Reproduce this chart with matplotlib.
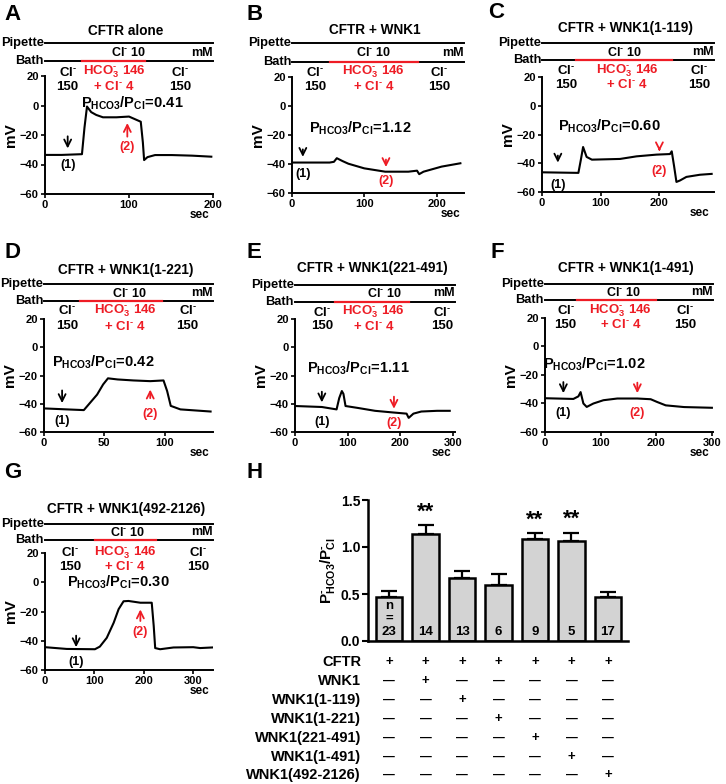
import matplotlib.pyplot as plt
from matplotlib.transforms import blended_transform_factory as blend

plt.rcParams['font.family'] = ['Liberation Sans', 'DejaVu Sans']
plt.rcParams['font.weight'] = 'bold'
plt.rcParams['axes.labelweight'] = 'bold'
plt.rcParams['mathtext.fontset'] = 'custom'
plt.rcParams['mathtext.rm'] = 'Liberation Sans:bold'
plt.rcParams['mathtext.bf'] = 'Liberation Sans:bold'
plt.rcParams['mathtext.it'] = 'Liberation Sans:bold'

# ---- traces (sec, mV) ----
a_t = [0, 20, 44, 47, 50, 55, 61, 69, 85, 100, 104, 114, 116.5, 118, 122, 131, 151, 175, 198]
a_mv = [-33.5, -33.5, -33, -15, -0.7, -4.5, -6.4, -8, -8, -7.5, -8.5, -11, -25, -37, -35, -33.6, -33.6, -34, -34.7]

b_t = [0, 30, 52, 58, 62, 70, 78, 100, 129, 161, 173, 176, 182, 207, 233]
b_mv = [-39, -39, -39, -38.5, -36, -38, -39.8, -43, -45.3, -45.3, -44.6, -47, -45.3, -41.8, -39.5]

c_t = [0, 30, 62, 66, 70, 76, 85, 133, 161, 195, 218, 221, 225, 229, 235, 246, 269, 289]
c_mv = [-46.3, -46.5, -46.7, -38, -28.7, -35.6, -37.5, -37, -35.2, -34, -33.6, -31.7, -42, -53, -52, -49.5, -48, -47.4]

d_t = [0, 19, 33, 37, 44, 49, 53, 61, 74, 88, 99, 102, 105, 113, 138]
d_mv = [-43.3, -44, -44.5, -40.5, -33.5, -26.3, -22, -22.8, -23.5, -24, -23.5, -31, -41.5, -44, -45.5]

e_t = [0, 51, 79, 84, 89, 92, 96, 120, 152, 187, 212, 216, 225, 240, 270, 294]
e_mv = [-41.6, -42.3, -44, -36, -31, -33, -41.6, -43, -45, -46.2, -47, -50, -47, -45.5, -45, -45]

f_t = [0, 51, 60, 64, 69, 75, 87, 105, 130, 166, 190, 202, 217, 250, 300]
f_mv = [-36.3, -36.8, -35, -32, -40, -42.4, -40, -37.7, -36.5, -36.5, -37, -39, -41.3, -42.5, -43]

g_t = [0, 44, 101, 111, 125, 139, 149, 159, 169, 193, 216, 220, 223, 233, 260, 300, 314, 338]
g_mv = [-44.4, -45.6, -45.8, -44, -38, -27.7, -18.4, -13, -12.8, -14, -14, -29.8, -45, -45.8, -44.6, -44.4, -45, -44.6]

titles = ['CFTR alone', 'CFTR + WNK1', 'CFTR + WNK1(1-119)', 'CFTR + WNK1(1-221)',
          'CFTR + WNK1(221-491)', 'CFTR + WNK1(1-491)', 'CFTR + WNK1(492-2126)']
ratios = ['0.41', '1.12', '0.60', '0.42', '1.11', '1.02', '0.30']
# time of HCO3 bath on / off (sec)
switch = [(44, 119), (52, 174), (58, 222), (30, 98), (76, 216), (57, 199), (101, 225)]

# ---- summary (panel H) ----
constructs = ['CFTR', 'WNK1', 'WNK1(1-119)', 'WNK1(1-221)', 'WNK1(221-491)', 'WNK1(1-491)', 'WNK1(492-2126)']
bar_mean = [0.47, 1.14, 0.67, 0.60, 1.09, 1.06, 0.47]
bar_sem = [0.06, 0.09, 0.075, 0.11, 0.055, 0.09, 0.05]
bar_n = [23, 14, 13, 6, 9, 5, 17]
bar_sig = ['', '**', '', '', '**', '**', '']
bar_construct = [None, 'WNK1', 'WNK1(1-119)', 'WNK1(1-221)', 'WNK1(221-491)', 'WNK1(1-491)', 'WNK1(492-2126)']

W, H = 726, 784
fig = plt.figure(figsize=(7.26, 7.84), dpi=100)


def box(l, t, r, b):
    return [l / W, 1 - b / H, (r - l) / W, (b - t) / H]


def fy(py):
    return 1 - py / H


def fx(px):
    return px / W


MINUS = r'^{\text{-}}'

# layout: axes box px, xmax, xticks, letter pos, title/pipette/cl10/bath/label rows,
# label x (sec), Cl10 x, P text pos, arrows (x, tail, tip, label_y)
layout = {
    'A': dict(box=(45, 76, 213, 194), xmax=200, xt=[0, 100, 200], let=(4, 14),
              rows=(31, 43, 53, 61, 72, 87), labx=(27, 82, 161), cl10=100, ptxt=(104, 1.6),
              ar1=(27, -19, -31, -40.5), ar2=(98, -23, -10, -28)),
    'B': dict(box=(292, 77, 464, 193), xmax=238, xt=[0, 100, 200], let=(246, 14),
              rows=(30, 43, 53, 62, 72, 87), labx=(32, 113, 203), cl10=113, ptxt=(94, -15.4),
              ar1=(15, -28, -37, -47), ar2=(130, -35, -44, -52)),
    'C': dict(box=(542, 77, 714, 192), xmax=293, xt=[0, 100, 200], let=(488, 13),
              rows=(28, 43, 52, 60, 71, 85), labx=(41, 145, 268), cl10=140, ptxt=(114, -14.3),
              ar1=(27, -32.7, -41.5, -54.9), ar2=(200, -27.5, -33.6, -45.6)),
    'D': dict(box=(44, 319, 213, 432), xmax=140, xt=[0, 50, 100], let=(4, 253),
              rows=(270, 284, 293, 301, 311, 326), labx=(19, 67, 119), cl10=71, ptxt=(49, -11),
              ar1=(15, -28.6, -41.5, -52), ar2=(88, -38, -28, -47)),
    'E': dict(box=(295, 319, 455, 432), xmax=304, xt=[0, 100, 200, 300], let=(246, 253),
              rows=(268, 285, 293, 302, 312, 326), labx=(51, 149, 279), cl10=171, ptxt=(121, -14.6),
              ar1=(51, -29.5, -41, -52.6), ar2=(188, -33, -45.5, -53.8)),
    'F': dict(box=(545, 318, 713, 432), xmax=302, xt=[0, 100, 200, 300], let=(490, 252),
              rows=(268, 284, 292, 300, 311, 325), labx=(37, 136, 252), cl10=141, ptxt=(88, -12.4),
              ar1=(33, -23, -34.7, -46.5), ar2=(166, -23.4, -34.7, -46.5)),
    'G': dict(box=(45, 553, 213, 670), xmax=340, xt=[0, 100, 200, 300], let=(4, 472),
              rows=(509, 524, 532, 540, 553, 567), labx=(51, 162, 310), cl10=166, ptxt=(148, 0),
              ar1=(63, -34.6, -46.3, -54.4), ar2=(193, -28.4, -16.7, -33.7)),
}

traces = [(a_t, a_mv), (b_t, b_mv), (c_t, c_mv), (d_t, d_mv), (e_t, e_mv), (f_t, f_mv), (g_t, g_mv)]
RED = '#ee1c25'

for i, key in enumerate('ABCDEFG'):
    L = layout[key]
    l, t, r, b = L['box']
    ax = fig.add_axes(box(l, t, r, b))
    tt, mv = traces[i]
    ax.plot(tt, mv, color='black', lw=1.5)
    ax.set_xlim(0, L['xmax'])
    ax.set_ylim(-60, 20)
    ax.set_xticks(L['xt'])
    ax.set_yticks([-60, -40, -20, 0, 20])
    for s in ['top', 'right']:
        ax.spines[s].set_visible(False)
    for s in ['left', 'bottom']:
        ax.spines[s].set_linewidth(1.4)
    ax.tick_params(length=3, width=1.2, labelsize=8, pad=1.5)
    ax.set_ylabel('mV', fontsize=11, fontweight='bold', labelpad=1)
    fig.text(fx(r - 14), fy(b + 21), 'sec', fontsize=8.5, ha='center', va='center')

    ty, py, cy, by, l1, l2 = L['rows']
    fig.text(fx(L['let'][0]), fy(L['let'][1]), key, fontsize=16, ha='left', va='center')
    fig.text(fx((l + r) / 2 - 3), fy(ty), titles[i], fontsize=9.8, ha='center', va='center')

    tr = blend(ax.transData, fig.transFigure)
    on, off = switch[i]
    ax.plot([0, L['xmax']], [fy(py)] * 2, transform=tr, clip_on=False, color='black', lw=1.4)
    ax.plot([0, L['xmax']], [fy(by)] * 2, transform=tr, clip_on=False, color='black', lw=1.4)
    ax.plot([on, off], [fy(by)] * 2, transform=tr, clip_on=False, color=RED, lw=1.6)
    fig.text(fx(l - 1), fy(py), 'Pipette', fontsize=9.3, ha='right', va='center')
    fig.text(fx(l - 1), fy(by), 'Bath', fontsize=9.3, ha='right', va='center')
    ax.text(L['cl10'], fy(cy), r'$\mathbf{Cl%s\ 10}$' % MINUS, transform=tr, fontsize=9, ha='center', va='center')
    ax.text(L['xmax'], fy(cy), 'mM', transform=tr, fontsize=9, ha='right', va='center')

    x1, x2, x3 = L['labx']
    ax.text(x1, fy(l1), r'$\mathbf{Cl%s}$' % MINUS, transform=tr, fontsize=9.5, ha='center', va='center')
    ax.text(x1, fy(l2), '150', transform=tr, fontsize=9.5, ha='center', va='center')
    ax.text(x2, fy(l1), r'$\mathbf{HCO_3%s\ 146}$' % MINUS, transform=tr, fontsize=9.5, ha='center', va='center', color=RED)
    ax.text(x2, fy(l2), r'$\mathbf{+\ Cl%s\ 4}$' % MINUS, transform=tr, fontsize=9.5, ha='center', va='center', color=RED)
    ax.text(x3, fy(l1), r'$\mathbf{Cl%s}$' % MINUS, transform=tr, fontsize=9.5, ha='center', va='center')
    ax.text(x3, fy(l2), '150', transform=tr, fontsize=9.5, ha='center', va='center')

    px, pyv = L['ptxt']
    ax.text(px, pyv, r'$\mathbf{P_{HCO3}/P_{Cl}\!=\!%s}$' % ratios[i], fontsize=10.5, ha='center', va='center')

    for (ax_, tail, tip, ly), col, lab in [(L['ar1'], 'black', '(1)'), (L['ar2'], RED, '(2)')]:
        ax.annotate('', xy=(ax_, tip), xytext=(ax_, tail),
                    arrowprops=dict(arrowstyle='->,head_width=0.25,head_length=0.5', lw=1.3, color=col))
        ax.text(ax_, ly, lab, fontsize=9, ha='center', va='center', color=col)

# ---- panel H ----
fig.text(fx(246), fy(472), 'H', fontsize=16, ha='left', va='center')
axh = fig.add_axes(box(368, 500, 628, 641))
xs = list(range(len(bar_mean)))
axh.errorbar(xs, bar_mean, yerr=[[0] * len(bar_sem), bar_sem], fmt='none', ecolor='black',
             elinewidth=1.6, capsize=6, capthick=1.6, zorder=1)
axh.bar(xs, bar_mean, width=0.72, color='#d3d3d3', edgecolor='black', linewidth=1.8, zorder=2)
axh.set_xlim(-0.58, 6.55)
axh.set_ylim(0, 1.5)
axh.set_yticks([0.0, 0.5, 1.0, 1.5])
axh.set_yticklabels(['0.0', '0.5', '1.0', '1.5'])
axh.set_xticks([])
for s in ['top', 'right']:
    axh.spines[s].set_visible(False)
for s in ['left', 'bottom']:
    axh.spines[s].set_linewidth(1.8)
axh.tick_params(length=4, width=1.5, labelsize=10, pad=1.5)
axh.set_ylabel(r'$\mathbf{P_{HCO3}%s/P_{Cl}%s}$' % (MINUS, MINUS), fontsize=11, labelpad=3)

for x, m, s, n, sig in zip(xs, bar_mean, bar_sem, bar_n, bar_sig):
    if x == 0:
        axh.text(x, 0.03, 'n\n=\n%d' % n, fontsize=9.5, ha='center', va='bottom', linespacing=1.1, zorder=3)
    else:
        axh.text(x, 0.03, str(n), fontsize=9.5, ha='center', va='bottom', zorder=3)
    if sig:
        axh.text(x, m + s + 0.03, sig, fontsize=16, ha='center', va='bottom')

row_y = [662, 681, 700, 719, 738, 757, 775]
trh = blend(axh.transData, fig.transFigure)
for row, name in enumerate(constructs):
    fig.text(fx(361), fy(row_y[row]), name, fontsize=10.5, ha='right', va='center')
    for x, c in zip(xs, bar_construct):
        on = (row == 0) or (c == name)
        axh.text(x, fy(row_y[row]), '+' if on else '\u2014', transform=trh,
                 fontsize=9.5 if on else 8.5, ha='center', va='center')

fig.savefig('out.png', dpi=100)
